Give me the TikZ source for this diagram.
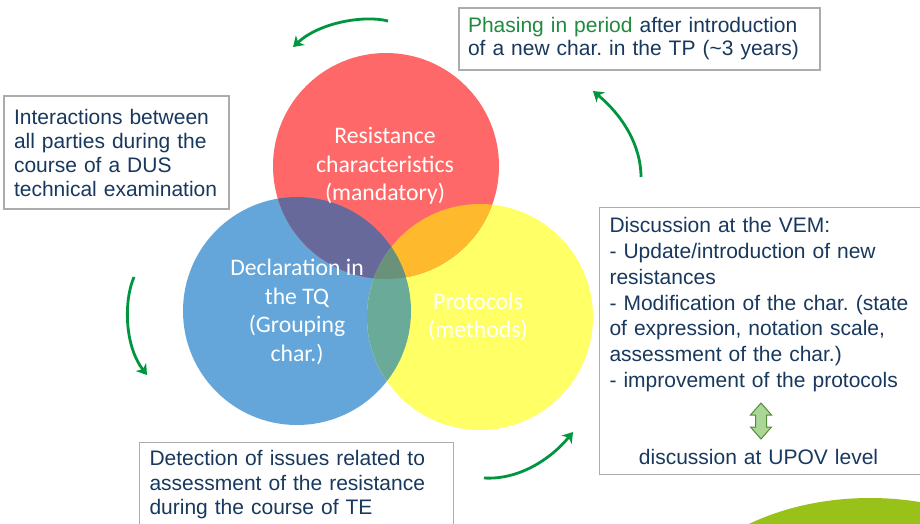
\documentclass[tikz,border=0pt]{standalone}
\usepackage{fontspec}
\setmainfont{Liberation Sans}
\newfontfamily\calibri{Carlito}
\usetikzlibrary{arrows.meta}
\frenchspacing

\definecolor{navy}{RGB}{24,56,94}
\definecolor{leafgreen}{RGB}{0,150,64}
\definecolor{phasegreen}{RGB}{32,138,62}
\definecolor{boxgray}{RGB}{172,172,172}
\definecolor{resred}{RGB}{255,104,104}
\definecolor{tqblue}{RGB}{100,166,218}
\definecolor{protyellow}{RGB}{255,255,102}
\definecolor{redblue}{RGB}{104,105,155}
\definecolor{redyellow}{RGB}{255,185,45}
\definecolor{blueyellow}{RGB}{106,170,152}
\definecolor{allthree}{RGB}{106,146,122}
\definecolor{arrowfill}{RGB}{170,214,150}
\definecolor{arrowline}{RGB}{84,140,60}
\definecolor{limegreen}{RGB}{152,193,26}

\tikzset{
  infobox/.style={draw=boxgray, line width=1.1pt, text=navy, align=left, inner xsep=10pt},
  vennlabel/.style={text=white, align=center, font=\calibri\fontsize{23.7}{28.6}\selectfont},
  turnarrow/.style={->, leafgreen, line width=2.8pt},
}

\begin{document}
\begin{tikzpicture}[>={Stealth[length=10pt, width=13pt, inset=3pt]}, x=1pt, y=-1pt]
\path[use as bounding box, clip](0,0) rectangle (920,523);
\fill[white](0,0) rectangle (920,523);
\fill[limegreen](870,640) ellipse[x radius=210, y radius=142];
\coordinate(R) at (386,166);
\coordinate(B) at (297,311);
\coordinate(Y) at (480,317);
\fill[tqblue](B) circle[radius=114];
\fill[protyellow](Y) circle[radius=113];
\fill[resred](R) circle[radius=113];
\begin{scope}
\clip(R) circle[radius=113];
\fill[redblue](B) circle[radius=114];
\fill[redyellow](Y) circle[radius=113];
\end{scope}
\begin{scope}
\clip(B) circle[radius=114];
\fill[blueyellow](Y) circle[radius=113];
\clip(R) circle[radius=113];
\fill[allthree](Y) circle[radius=113];
\end{scope}
\node[vennlabel](res) at (385,166) {Resistance\\characteristics\\(mandatory)};
\node[vennlabel](decl) at (297,312) {Declaration in\\the TQ\\(Grouping\\char.)};
\node[vennlabel](prot) at (478,317) {Protocols\\(methods)};

\node[infobox, text width=205pt, minimum width=225pt, minimum height=113pt,
  font=\fontsize{21}{24}\selectfont](interact) at (116.5,152.5)
  {Interactions between\\all parties during the\\course of a DUS\\technical examination};
\node[infobox, inner xsep=9pt, text width=343pt, minimum width=361pt, minimum height=62pt,
  font=\fontsize{21}{23}\selectfont](phasing) at (639.5,39)
  {\textcolor{phasegreen}{Phasing in period} after introduction\\of a new char. in the TP (\textasciitilde3 years)};
\node[infobox, anchor=north west, inner ysep=10pt, text width=306pt,
  font=\fontsize{21}{25.8}\selectfont](vem) at (599,207)
  {Discussion at the VEM:\\- Update/introduction of new\\resistances\\- Modification of the char. (state\\of expression, notation scale,\\assessment of the char.)\\- improvement of the protocols\par
  \vspace{51pt}\makebox[298pt][c]{discussion at UPOV level}};
\node[infobox, anchor=north west, inner ysep=8pt, text width=294pt,
  font=\fontsize{21}{24.5}\selectfont](detect) at (139,442)
  {Detection of issues related to\\assessment of the resistance\\during the course of TE};

% up-down arrow between the VEM list and the UPOV line
\coordinate(U) at (761,421);
\filldraw[fill=arrowfill, draw=arrowline, line width=1pt, line join=miter]
  ([shift={(0,-18)}]U) -- ([shift={(10.5,-6)}]U) -- ([shift={(5.5,-6)}]U) -- ([shift={(5.5,6)}]U)
  -- ([shift={(10.5,6)}]U) -- ([shift={(0,18)}]U) -- ([shift={(-10.5,6)}]U) -- ([shift={(-5.5,6)}]U)
  -- ([shift={(-5.5,-6)}]U) -- ([shift={(-10.5,-6)}]U) -- cycle;

\coordinate(A1) at (388,21);
\coordinate(E1) at (293,47);
\coordinate(A2) at (641,177);
\coordinate(E2) at (593,91);
\coordinate(A3) at (134,277);
\coordinate(E3) at (147,375);
\coordinate(A4) at (484,478);
\coordinate(E4) at (573,432);
\draw[turnarrow](A1) .. controls (365,15) and (320,22) .. (E1);
\draw[turnarrow](A2) .. controls (641,145) and (622,115) .. (E2);
\draw[turnarrow](A3) .. controls (124,300) and (124,345) .. (E3);
\draw[turnarrow](A4) .. controls (518,480) and (550,460) .. (E4);
\end{tikzpicture}
\end{document}
